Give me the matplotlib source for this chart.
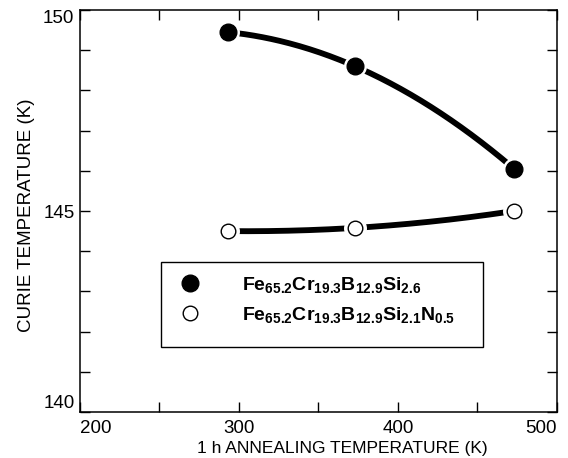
import matplotlib
matplotlib.use("Agg")
import matplotlib.pyplot as plt
from matplotlib.lines import Line2D
from matplotlib.patches import Rectangle
from matplotlib.ticker import MultipleLocator
import numpy as np

plt.rcParams["font.family"] = ["Liberation Sans", "DejaVu Sans"]
plt.rcParams["mathtext.fontset"] = "custom"
plt.rcParams["mathtext.rm"] = "Liberation Sans"
plt.rcParams["mathtext.bf"] = "Liberation Sans:bold"

# annealing temperature (K) and Curie temperature (K)
anneal_T = [293, 373, 473]
tc_si26 = [149.45, 148.6, 146.05]
tc_n05 = [144.5, 144.58, 145.0]

x_ticks = [200, 300, 400, 500]
y_ticks = [140, 145, 150]

label_si26 = r"$\mathbf{Fe_{65.2}Cr_{19.3}B_{12.9}Si_{2.6}}$"
label_n05 = r"$\mathbf{Fe_{65.2}Cr_{19.3}B_{12.9}Si_{2.1}N_{0.5}}$"

fig = plt.figure(figsize=(5.68, 4.58), dpi=100)
ax = fig.add_axes([80 / 568, 1 - 412 / 458, 477 / 568, 402 / 458])

xs = np.linspace(anneal_T[0], anneal_T[-1], 200)
for ys, face in [(tc_si26, "black"), (tc_n05, "white")]:
    coef = np.polyfit(anneal_T, ys, 2)
    ax.plot(xs, np.polyval(coef, xs), color="black", lw=4.2,
            solid_capstyle="butt", zorder=2)
    # white halo around markers (gap between curve and symbol)
    ax.plot(anneal_T, ys, "o", ms=15.5, mfc="white", mec="white", zorder=3)
    if face == "black":
        ax.plot(anneal_T, ys, "o", ms=12, mfc="black", mec="black", zorder=4)
    else:
        ax.plot(anneal_T, ys, "o", ms=10.5, mfc="white", mec="black",
                mew=1.0, zorder=4)

ax.set_xlim(200, 500)
ax.set_ylim(140, 150)
ax.set_xticks(x_ticks)
ax.set_yticks(y_ticks)
ax.xaxis.set_minor_locator(MultipleLocator(50))
ax.yaxis.set_minor_locator(MultipleLocator(1))
ax.tick_params(which="both", direction="in", top=True, right=True,
               width=1.0, length=7, labelsize=13.5)
ax.tick_params(axis="x", pad=6)
ax.tick_params(axis="y", pad=4)
for sp in ax.spines.values():
    sp.set_linewidth(1.1)

# end labels sit inside the axis span, as in the original figure
xl = ax.get_xticklabels()
xl[0].set_ha("left")
xl[-1].set_ha("right")
yl = ax.get_yticklabels()
yl[0].set_va("bottom")
yl[-1].set_va("top")

ax.set_xlabel("1 h ANNEALING TEMPERATURE (K)", fontsize=12.5)
ax.set_ylabel("CURIE TEMPERATURE (K)", fontsize=13.5)
ax.xaxis.set_label_coords(0.55, -0.072)
ax.yaxis.set_label_coords(-0.095, 0.49)

handles = [
    Line2D([], [], ls="none", marker="o", ms=12, mfc="black", mec="black"),
    Line2D([], [], ls="none", marker="o", ms=10.5, mfc="white", mec="black",
           mew=1.0),
]
ax.legend(handles, [label_si26, label_n05], loc="upper left",
          bbox_to_anchor=(0.170, 0.3655), borderaxespad=0,
          fontsize=14, frameon=False, borderpad=0.5, handlelength=2.0,
          handletextpad=1.67, labelspacing=0.5)
ax.add_patch(Rectangle((0.170, 0.162), 0.675, 0.211, transform=ax.transAxes,
                       fill=True, facecolor="white", edgecolor="black",
                       lw=1.0, zorder=4.5))
ax.get_legend().set_zorder(5)

fig.savefig("out.png", dpi=100)
